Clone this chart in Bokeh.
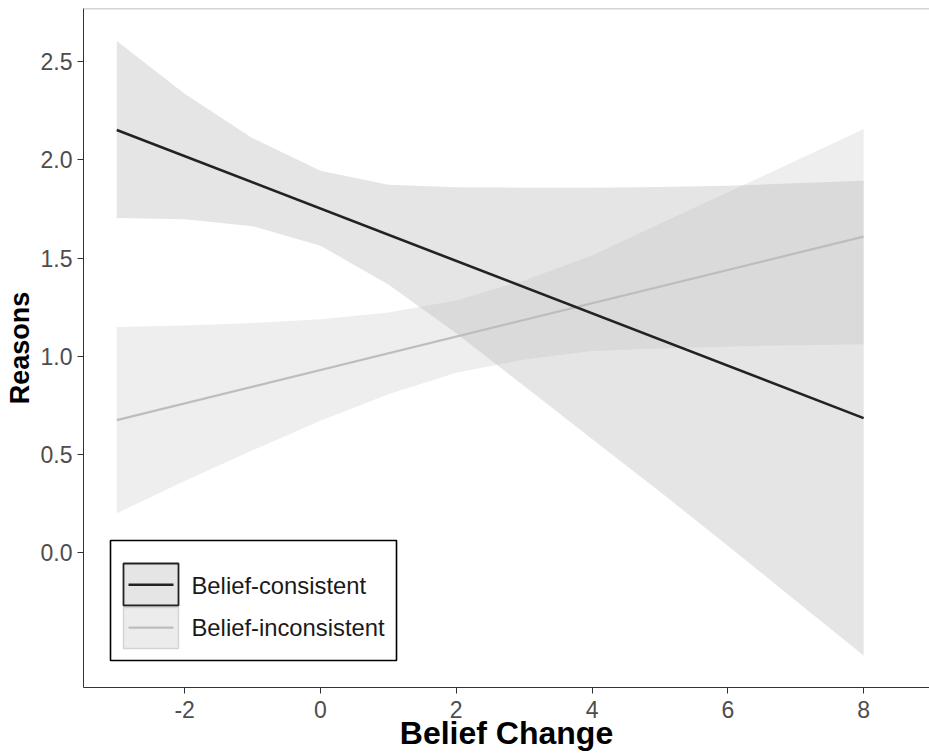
from bokeh.plotting import figure
from bokeh.models import Range1d, FixedTicker, NumeralTickFormatter, BoxAnnotation, Label, Span
from bokeh.embed import file_html
from bokeh.resources import INLINE

# ---- data ----
x_grid = [-3, -2, -1, 0, 1, 2, 3, 4, 5, 6, 7, 8]

cons_line_x = [-3, 8]
cons_line_y = [2.152, 0.685]
cons_upper = [2.604, 2.336, 2.110, 1.944, 1.873, 1.860, 1.858, 1.858, 1.862, 1.868, 1.880, 1.893]
cons_lower = [1.704, 1.697, 1.662, 1.563, 1.365, 1.117, 0.848, 0.579, 0.310, 0.036, -0.244, -0.523]

inc_line_x = [-3, 8]
inc_line_y = [0.675, 1.609]
inc_upper = [1.149, 1.157, 1.169, 1.188, 1.223, 1.284, 1.386, 1.513, 1.675, 1.835, 1.995, 2.157]
inc_lower = [0.201, 0.365, 0.521, 0.672, 0.807, 0.916, 0.984, 1.027, 1.040, 1.050, 1.056, 1.061]

x_ticks = [-2, 0, 2, 4, 6, 8]
y_ticks = [0.0, 0.5, 1.0, 1.5, 2.0, 2.5]
series_labels = ["Belief-consistent", "Belief-inconsistent"]
x_title = "Belief Change"
y_title = "Reasons"

FONT = "Liberation Sans"

p = figure(width=929, height=754, output_backend="svg", toolbar_location=None,
           x_range=Range1d(-3.49, 8.97), y_range=Range1d(-0.686, 2.770),
           min_border_left=83, min_border_right=0, min_border_top=8, min_border_bottom=67)
p.outline_line_color = None
p.xgrid.visible = False
p.ygrid.visible = False
p.background_fill_color = "white"
p.border_fill_color = "white"

# ribbons
p.varea(x=x_grid, y1=cons_lower, y2=cons_upper, fill_color="#b5b5b5", fill_alpha=0.35)
p.varea(x=x_grid, y1=inc_lower, y2=inc_upper, fill_color="#b5b5b5", fill_alpha=0.23)
# fitted lines
p.line(inc_line_x, inc_line_y, line_color="#bdbdbd", line_width=2.2)
p.line(cons_line_x, cons_line_y, line_color="#222222", line_width=2.6)

# top border line of the panel
p.add_layout(Span(location=2.770, dimension="width", line_color="#a8a8a8", line_width=1.5))

# axes
p.xaxis.ticker = FixedTicker(ticks=x_ticks)
p.yaxis.ticker = FixedTicker(ticks=y_ticks)
p.xaxis.formatter = NumeralTickFormatter(format="0")
p.yaxis.formatter = NumeralTickFormatter(format="0.0")
for ax in (p.xaxis[0], p.yaxis[0]):
    ax.axis_line_color = "#333333"
    ax.axis_line_width = 1
    ax.major_tick_line_color = "#333333"
    ax.major_tick_line_width = 1
    ax.major_tick_out = 6
    ax.major_tick_in = 0
    ax.minor_tick_out = 0
    ax.minor_tick_in = 0
    ax.major_label_text_font = FONT
    ax.major_label_text_font_size = "23px"
    ax.major_label_text_color = "#4d4d4d"
    ax.axis_label_text_font = FONT
    ax.axis_label_text_font_style = "bold"
    ax.axis_label_text_color = "black"
p.yaxis.axis_label_text_font_size = "27px"
p.xaxis.axis_label_text_font_size = "32px"
p.yaxis.axis_label = y_title
p.xaxis.axis_label = x_title
p.xaxis.major_label_standoff = 7
p.yaxis.major_label_standoff = 5
p.yaxis.axis_label_standoff = 3
p.xaxis.axis_label_standoff = -6

# legend (drawn manually to match the ggplot style keys)
def cbox(l, r, t, b, **kw):
    return BoxAnnotation(left=l, right=r, top=t, bottom=b,
                         left_units="canvas", right_units="canvas",
                         top_units="canvas", bottom_units="canvas", **kw)

p.add_layout(cbox(110, 396, 540, 660, fill_color="white", fill_alpha=1.0,
                  line_color="black", line_alpha=1.0, line_width=1.6))
p.add_layout(cbox(123, 178, 563, 605, fill_color="#e5e5e5", fill_alpha=1.0,
                  line_color="#222222", line_alpha=1.0, line_width=1.8))
p.add_layout(cbox(123, 178, 607, 648, fill_color="#ececec", fill_alpha=1.0,
                  line_color="#d3d3d3", line_alpha=1.0, line_width=1.4))
p.add_layout(cbox(128, 173, 583, 585.6, fill_color="#222222", fill_alpha=1.0, line_color=None))
p.add_layout(cbox(128, 173, 626, 628.2, fill_color="#bdbdbd", fill_alpha=1.0, line_color=None))

p.add_layout(Label(x=108, y=102.3, x_units="screen", y_units="screen",
                   text=series_labels[0], text_font=FONT, text_font_size="23.8px",
                   text_color="#1a1a1a", text_baseline="alphabetic"))
p.add_layout(Label(x=108, y=60, x_units="screen", y_units="screen",
                   text=series_labels[1], text_font=FONT, text_font_size="23.8px",
                   text_color="#1a1a1a", text_baseline="alphabetic"))

open("out.html", "w").write(file_html(p, INLINE))
